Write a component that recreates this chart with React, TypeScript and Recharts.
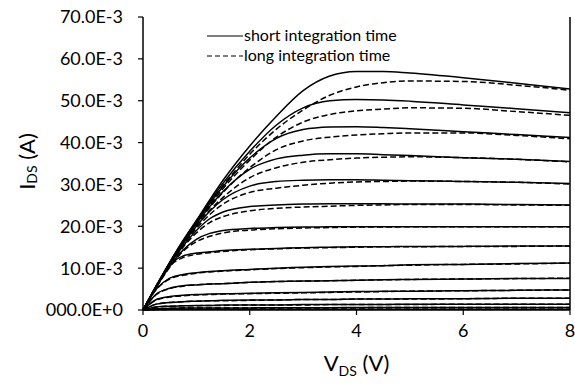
import { LineChart, Line, XAxis, YAxis } from 'recharts';

// drain voltage grid (V)
const vds = [0, 0.25, 0.5, 0.75, 1, 1.25, 1.5, 2, 2.5, 3, 3.5, 4, 4.5, 5, 6, 7, 8];

// drain current in mA, one array per gate step
const shortTime = [
  [0, 5.8, 11.4, 16.6, 21.4, 26.3, 31.0, 39.2, 46.3, 52.4, 55.9, 57.0, 57.0, 56.6, 55.5, 54.2, 52.8],
  [0, 5.8, 11.3, 16.5, 21.2, 25.9, 30.3, 37.9, 44.2, 48.3, 50.0, 50.3, 50.2, 49.9, 49.0, 48.1, 47.1],
  [0, 5.7, 11.2, 16.3, 21.0, 25.4, 29.5, 36.3, 41.0, 43.1, 43.7, 43.8, 43.6, 43.3, 42.6, 41.9, 41.2],
  [0, 5.7, 11.1, 16.1, 20.6, 24.7, 28.3, 33.6, 36.1, 37.0, 37.3, 37.3, 37.1, 36.9, 36.4, 36.0, 35.5],
  [0, 5.6, 11.0, 15.8, 20.0, 23.6, 26.4, 29.6, 30.7, 31.0, 31.1, 31.1, 31.0, 30.9, 30.7, 30.5, 30.2],
  [0, 5.6, 10.8, 15.3, 19.0, 21.8, 23.4, 24.7, 25.1, 25.3, 25.4, 25.4, 25.4, 25.3, 25.3, 25.2, 25.1],
  [0, 5.5, 10.4, 14.3, 16.9, 18.3, 19.0, 19.5, 19.7, 19.8, 19.9, 19.9, 19.9, 19.9, 19.9, 19.9, 19.9],
  [0, 5.6, 10.8, 12.9, 13.6, 13.9, 14.2, 14.5, 14.7, 14.9, 15.0, 15.1, 15.1, 15.2, 15.2, 15.3, 15.3],
  [0, 5.0, 7.6, 8.5, 8.9, 9.2, 9.4, 9.7, 10.0, 10.2, 10.4, 10.5, 10.6, 10.8, 10.9, 11.1, 11.2],
  [0, 3.8, 5.2, 5.8, 6.0, 6.2, 6.3, 6.6, 6.8, 6.9, 7.0, 7.1, 7.2, 7.3, 7.4, 7.5, 7.5],
  [0, 2.5, 3.2, 3.5, 3.7, 3.8, 3.9, 4.0, 4.1, 4.2, 4.3, 4.4, 4.5, 4.5, 4.6, 4.7, 4.8],
  [0, 1.4, 1.8, 2.0, 2.1, 2.2, 2.3, 2.4, 2.4, 2.5, 2.5, 2.6, 2.6, 2.7, 2.7, 2.8, 2.8],
  [0, 0.7, 0.9, 1.0, 1.1, 1.1, 1.2, 1.2, 1.2, 1.3, 1.3, 1.3, 1.3, 1.4, 1.4, 1.4, 1.4],
  [0, 0.3, 0.4, 0.45, 0.5, 0.5, 0.5, 0.5, 0.55, 0.55, 0.55, 0.6, 0.6, 0.6, 0.6, 0.6, 0.6],
  [0, 0.1, 0.15, 0.15, 0.2, 0.2, 0.2, 0.2, 0.2, 0.2, 0.2, 0.2, 0.2, 0.2, 0.2, 0.2, 0.2],
];

const longTime = [
  [0, 5.7, 11.2, 16.3, 21.0, 25.5, 29.7, 37.2, 43.2, 47.8, 51.3, 53.3, 54.3, 54.7, 54.6, 53.7, 52.5],
  [0, 5.7, 11.1, 16.2, 20.8, 25.0, 29.0, 35.8, 41.3, 44.9, 46.7, 47.6, 48.0, 48.3, 48.2, 47.4, 46.5],
  [0, 5.6, 11.0, 16.0, 20.4, 24.5, 28.1, 34.0, 38.3, 40.4, 41.3, 41.8, 42.1, 42.3, 42.3, 41.7, 40.9],
  [0, 5.6, 10.9, 15.8, 20.0, 23.8, 26.9, 31.6, 34.0, 35.3, 35.9, 36.3, 36.5, 36.6, 36.4, 36.0, 35.4],
  [0, 5.5, 10.8, 15.5, 19.5, 22.8, 25.3, 28.1, 29.1, 29.8, 30.3, 30.6, 30.7, 30.8, 30.7, 30.5, 30.1],
  [0, 5.5, 10.6, 15.0, 18.4, 20.9, 22.3, 23.7, 24.3, 24.6, 24.8, 25.0, 25.1, 25.2, 25.2, 25.1, 25.0],
  [0, 5.4, 10.2, 14.0, 16.3, 17.6, 18.4, 19.1, 19.4, 19.6, 19.7, 19.8, 19.8, 19.9, 19.9, 19.9, 19.9],
  [0, 5.5, 10.5, 12.5, 13.3, 13.7, 14.0, 14.4, 14.6, 14.8, 14.9, 15.0, 15.1, 15.1, 15.2, 15.2, 15.3],
  [0, 4.9, 7.4, 8.3, 8.8, 9.1, 9.3, 9.6, 9.9, 10.1, 10.3, 10.4, 10.6, 10.7, 10.9, 11.0, 11.2],
  [0, 3.7, 5.1, 5.7, 6.0, 6.2, 6.3, 6.6, 6.8, 6.9, 7.0, 7.1, 7.2, 7.3, 7.4, 7.5, 7.6],
  [0, 2.4, 3.1, 3.4, 3.6, 3.7, 3.8, 3.9, 4.0, 4.1, 4.2, 4.3, 4.4, 4.5, 4.6, 4.7, 4.8],
  [0, 1.4, 1.8, 2.0, 2.1, 2.2, 2.2, 2.3, 2.4, 2.5, 2.5, 2.6, 2.6, 2.6, 2.7, 2.8, 2.8],
  [0, 0.7, 0.9, 1.0, 1.0, 1.1, 1.1, 1.2, 1.2, 1.2, 1.3, 1.3, 1.3, 1.3, 1.4, 1.4, 1.4],
  [0, 0.3, 0.4, 0.45, 0.45, 0.5, 0.5, 0.5, 0.5, 0.55, 0.55, 0.55, 0.6, 0.6, 0.6, 0.6, 0.6],
  [0, 0.1, 0.15, 0.15, 0.15, 0.2, 0.2, 0.2, 0.2, 0.2, 0.2, 0.2, 0.2, 0.2, 0.2, 0.2, 0.2],
];

const xTicks = [0, 2, 4, 6, 8];
const yTicks = [0, 10, 20, 30, 40, 50, 60, 70];
const yTickLabels = ['000.0E+0', '10.0E-3', '20.0E-3', '30.0E-3', '40.0E-3', '50.0E-3', '60.0E-3', '70.0E-3'];
const legendLabels = ['short integration time', 'long integration time'];

const data = vds.map((v, i) => {
  const row: Record<string, number> = { v };
  shortTime.forEach((c, k) => (row['s' + k] = c[i]));
  longTime.forEach((c, k) => (row['l' + k] = c[i]));
  return row;
});

const FONT = 'Lato, "Open Sans", sans-serif';
const tickStyle = { fill: '#000', fontSize: 18, fontFamily: FONT };

function YTitle({ viewBox }: any) {
  const cx = viewBox.x + 26;
  const cy = viewBox.y + viewBox.height / 2 - 2;
  return (
    <text
      x={cx}
      y={cy}
      transform={`rotate(-90, ${cx}, ${cy})`}
      textAnchor="middle"
      dominantBaseline="central"
      fontFamily={FONT}
      fontSize={22}
      fill="#000"
    >
      I<tspan fontSize={14} dy={5}>DS</tspan>
      <tspan dy={-5}> (A)</tspan>
    </text>
  );
}

function XTitle({ viewBox }: any) {
  const cx = viewBox.x + viewBox.width / 2;
  return (
    <text x={cx} y={viewBox.y + 61} textAnchor="middle" fontFamily={FONT} fontSize={22} fill="#000">
      V<tspan fontSize={14} dy={5}>DS</tspan>
      <tspan dy={-5}> (V)</tspan>
    </text>
  );
}

export default function App() {
  return (
    <div style={{ position: 'absolute', left: 0, top: 0, width: 575, height: 387, background: '#fff' }}>
      <LineChart width={575} height={387} data={data} margin={{ top: 17, right: 0, left: 0, bottom: 0 }}>
        <XAxis
          dataKey="v"
          type="number"
          domain={[0, 8]}
          ticks={xTicks}
          height={77}
          tickSize={5}
          tickMargin={9}
          tick={tickStyle}
          axisLine={{ stroke: '#000', strokeWidth: 1.5 }}
          tickLine={{ stroke: '#000', strokeWidth: 1.2 }}
          label={{ content: XTitle }}
        />
        <XAxis
          xAxisId="top"
          orientation="top"
          type="number"
          domain={[0, 8]}
          height={0}
          tick={false}
          tickLine={false}
          axisLine={{ stroke: '#000', strokeWidth: 1.5 }}
        />
        <YAxis
          type="number"
          domain={[0, 70]}
          ticks={yTicks}
          width={143}
          tickSize={5}
          tickMargin={15}
          tick={tickStyle}
          tickFormatter={(v: number) => yTickLabels[yTicks.indexOf(v)]}
          axisLine={{ stroke: '#000', strokeWidth: 1.5 }}
          tickLine={{ stroke: '#000', strokeWidth: 1.2 }}
          label={{ content: YTitle }}
        />
        <YAxis
          yAxisId="right"
          orientation="right"
          type="number"
          domain={[0, 70]}
          width={5}
          tick={false}
          tickLine={false}
          axisLine={{ stroke: '#000', strokeWidth: 1.5 }}
        />
        {longTime.map((_, k) => (
          <Line
            key={'l' + k}
            dataKey={'l' + k}
            type="monotone"
            stroke="#000"
            strokeWidth={1.5}
            strokeDasharray="6 3"
            dot={false}
            isAnimationActive={false}
          />
        ))}
        {shortTime.map((_, k) => (
          <Line
            key={'s' + k}
            dataKey={'s' + k}
            type="monotone"
            stroke="#000"
            strokeWidth={1.5}
            dot={false}
            isAnimationActive={false}
          />
        ))}
      </LineChart>
      <div style={{ position: 'absolute', left: 206, top: 25, fontFamily: FONT, fontSize: 16, color: '#000', lineHeight: '20px' }}>
        {legendLabels.map((t, i) => (
          <div key={t} style={{ display: 'flex', alignItems: 'center' }}>
            <svg width={38} height={20}>
              <line x1={1} x2={37} y1={11} y2={11} stroke="#000" strokeWidth={1.2} strokeDasharray={i === 1 ? '5 3' : undefined} />
            </svg>
            <span>{t}</span>
          </div>
        ))}
      </div>
    </div>
  );
}
